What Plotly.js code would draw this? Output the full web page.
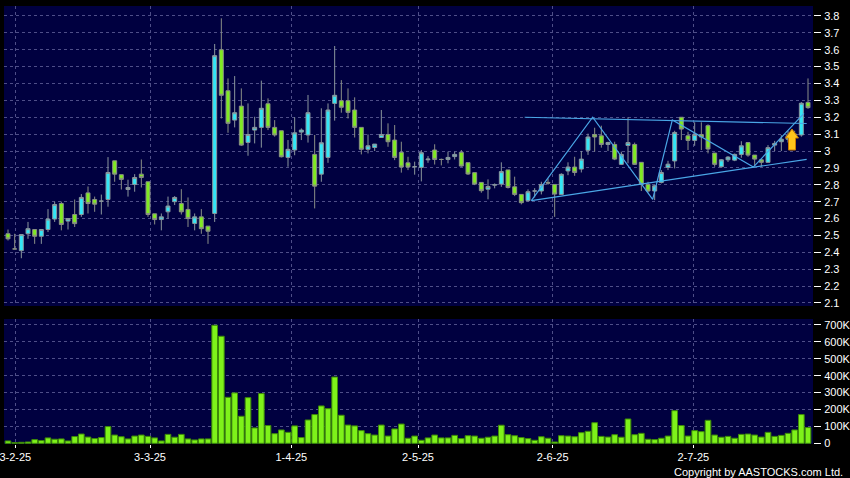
<!DOCTYPE html>
<html>
<head>
<meta charset="utf-8">
<script src="https://cdn.plot.ly/plotly-3.0.1.min.js"></script>
<style>
  html, body { margin: 0; padding: 0; background: #000; }
  #chart { width: 850px; height: 478px; }
</style>
</head>
<body>
<div id="chart"></div>
<script>
// ---- daily OHLC (trading-day index 0..120) ----
const opens = [
  2.51, 2.42, 2.41, 2.51, 2.535, 2.495, 2.535, 2.597, 2.689, 2.585,
  2.624, 2.624, 2.752, 2.713, 2.703, 2.713, 2.942, 2.86, 2.772, 2.802,
  2.863, 2.818, 2.628, 2.594, 2.64, 2.70, 2.689, 2.654, 2.571, 2.61,
  2.555, 2.63, 3.60, 3.357, 3.183, 3.266, 3.051, 3.124, 3.14, 3.28,
  3.14, 3.12, 2.962, 3.006, 3.112, 3.095, 2.98, 2.863, 2.962, 3.282,
  3.298, 3.298, 3.243, 3.14, 3.01, 3.021, 3.08, 3.098, 3.065, 2.992,
  2.93, 2.907, 2.903, 2.948, 3.006, 2.95, 2.95, 2.967, 2.992, 2.931,
  2.872, 2.814, 2.774, 2.798, 2.804, 2.888, 2.788, 2.743, 2.706, 2.763,
  2.763, 2.814, 2.802, 2.743, 2.882, 2.905, 2.893, 3.004, 3.098, 3.09,
  3.039, 3.039, 2.921, 3.033, 3.039, 2.933, 2.802, 2.763, 2.814, 2.903,
  2.941, 3.20, 3.09, 3.063, 3.098, 3.15, 2.988, 2.907, 2.948, 2.946,
  2.98, 3.05, 2.976, 2.948, 2.933, 3.035, 3.055, 3.07, 3.08, 3.095,
  3.288
];
const highs = [
  2.535, 2.51, 2.505, 2.58, 2.535, 2.535, 2.656, 2.70, 2.70, 2.60,
  2.713, 2.745, 2.79, 2.73, 2.742, 2.964, 2.942, 2.86, 2.83, 2.863,
  2.95, 2.818, 2.628, 2.63, 2.73, 2.733, 2.774, 2.725, 2.63, 2.656,
  2.555, 3.634, 3.786, 3.43, 3.444, 3.371, 3.282, 3.203, 3.417, 3.312,
  3.183, 3.12, 3.065, 3.20, 3.134, 3.332, 3.095, 3.253, 3.282, 3.622,
  3.42, 3.371, 3.318, 3.14, 3.098, 3.041, 3.243, 3.164, 3.154, 3.055,
  2.966, 2.937, 3.006, 2.97, 3.04, 2.955, 2.996, 2.996, 3.006, 2.931,
  2.872, 2.814, 2.832, 2.808, 2.933, 2.888, 2.848, 2.743, 2.773, 2.78,
  2.818, 2.838, 2.802, 2.868, 2.933, 2.966, 3.0, 3.103, 3.138, 3.15,
  3.055, 3.055, 2.996, 3.20, 3.05, 2.933, 2.818, 2.80, 2.887, 2.942,
  3.12, 3.20, 3.114, 3.17, 3.17, 3.158, 2.988, 2.952, 2.97, 2.985,
  3.058, 3.05, 2.976, 2.952, 3.035, 3.06, 3.094, 3.12, 3.12, 3.29,
  3.43
];
const lows = [
  2.47, 2.42, 2.365, 2.48, 2.45, 2.45, 2.52, 2.58, 2.53, 2.535,
  2.55, 2.61, 2.63, 2.64, 2.624, 2.67, 2.818, 2.772, 2.73, 2.759,
  2.784, 2.61, 2.565, 2.53, 2.60, 2.68, 2.624, 2.55, 2.53, 2.51,
  2.45, 2.58, 3.193, 3.108, 3.14, 3.03, 2.972, 3.045, 3.02, 3.124,
  3.085, 2.962, 2.907, 2.975, 3.065, 3.05, 2.66, 2.818, 2.93, 3.18,
  3.227, 3.193, 3.08, 2.98, 2.986, 3.0, 3.08, 3.025, 2.946, 2.872,
  2.887, 2.86, 2.82, 2.93, 2.92, 2.915, 2.927, 2.95, 2.907, 2.858,
  2.798, 2.753, 2.714, 2.779, 2.788, 2.778, 2.733, 2.684, 2.70, 2.725,
  2.743, 2.80, 2.61, 2.743, 2.857, 2.853, 2.873, 2.977, 2.996, 3.02,
  3.0, 2.946, 2.917, 2.927, 2.917, 2.763, 2.755, 2.709, 2.808, 2.887,
  2.897, 3.065, 3.006, 3.031, 3.006, 2.986, 2.907, 2.901, 2.935, 2.94,
  2.96, 2.966, 2.913, 2.907, 2.93, 3.0, 3.0, 3.05, 3.07, 3.085,
  3.25
];
const closes = [
  2.48, 2.42, 2.505, 2.54, 2.495, 2.535, 2.597, 2.683, 2.565, 2.60,
  2.57, 2.725, 2.689, 2.685, 2.703, 2.873, 2.863, 2.832, 2.784, 2.843,
  2.843, 2.624, 2.594, 2.61, 2.674, 2.725, 2.64, 2.60, 2.61, 2.54,
  2.525, 3.565, 3.33, 3.164, 3.227, 3.035, 3.098, 3.14, 3.253, 3.14,
  3.095, 2.966, 3.01, 3.108, 3.124, 3.227, 2.792, 3.049, 3.243, 3.33,
  3.259, 3.229, 3.14, 3.01, 3.031, 3.041, 3.098, 3.055, 2.962, 2.905,
  2.905, 2.907, 2.99, 2.952, 2.95, 2.95, 2.962, 2.98, 2.911, 2.864,
  2.804, 2.765, 2.79, 2.80, 2.878, 2.784, 2.743, 2.694, 2.759, 2.763,
  2.802, 2.81, 2.745, 2.862, 2.905, 2.873, 2.952, 3.083, 3.083, 3.039,
  3.05, 2.952, 2.98, 3.05, 2.921, 2.802, 2.763, 2.794, 2.873, 2.922,
  3.11, 3.13, 3.063, 3.098, 3.083, 3.012, 2.921, 2.948, 2.964, 2.98,
  3.031, 2.976, 2.952, 2.933, 3.02, 3.045, 3.07, 3.09, 3.10, 3.283,
  3.257
];
// ---- daily volume (shares) ----
const volumes = [
  14000, 4000, 6000, 8000, 22000, 16000, 32000, 24000, 26000, 14000,
  40000, 55000, 37000, 28000, 34000, 99000, 49000, 39000, 26000, 43000,
  49000, 41000, 32000, 14000, 53000, 36000, 53000, 26000, 20000, 26000,
  26000, 698000, 633000, 272000, 298000, 160000, 270000, 91000, 294000, 105000,
  57000, 79000, 65000, 103000, 34000, 138000, 170000, 221000, 205000, 392000,
  166000, 108000, 103000, 75000, 57000, 49000, 108000, 43000, 85000, 114000,
  30000, 43000, 18000, 32000, 49000, 32000, 32000, 47000, 28000, 45000,
  43000, 30000, 36000, 43000, 107000, 51000, 45000, 34000, 28000, 18000,
  39000, 30000, 8000, 45000, 43000, 39000, 63000, 71000, 122000, 41000,
  37000, 51000, 36000, 144000, 51000, 59000, 24000, 22000, 30000, 43000,
  193000, 105000, 43000, 75000, 69000, 136000, 49000, 36000, 41000, 30000,
  53000, 55000, 49000, 37000, 65000, 41000, 47000, 59000, 79000, 170000,
  93000
];
// ---- axis ticks ----
const xTickLabels = ['3-2-25', '3-3-25', '1-4-25', '2-5-25', '2-6-25', '2-7-25'];
const xTickPos = [1.1, 21.3, 42.5, 61.5, 81.7, 102.8];
const priceTickLabels = ['2.1','2.2','2.3','2.4','2.5','2.6','2.7','2.8','2.9','3','3.1','3.2','3.3','3.4','3.5','3.6','3.7','3.8'];
const volTickVals = [0, 100000, 200000, 300000, 400000, 500000, 600000, 700000];
const volTickLabels = ['0', '100K', '200K', '300K', '400K', '500K', '600K', '700K'];
// ---- drawn pattern lines (index, price) ----
const resistanceX = [77.5, 119.8];
const resistanceY = [3.20, 3.163];
const supportX = [78.5, 119.8];
const supportY = [2.706, 2.951];
const zigzagX = [78.5, 87.7, 96.7, 99.65, 111.8, 119.4];
const zigzagY = [2.706, 3.20, 2.713, 3.184, 2.905, 3.223];
const arrowX = 117.6;
const arrowY = 3.006;

const xIdx = opens.map((_, i) => i);

const CYAN = '#33e6f6';
const GREEN = '#80ea22';
const TREND = '#4aa6e6';
const GRID = '#4e4e88';
const FONT = 'Liberation Sans, Arial, sans-serif';

const traces = [
  {
    type: 'candlestick',
    x: xIdx, open: opens, high: highs, low: lows, close: closes,
    xaxis: 'x', yaxis: 'y',
    increasing: { fillcolor: CYAN, line: { color: '#8a969c', width: 1 } },
    decreasing: { fillcolor: GREEN, line: { color: '#8a8f86', width: 1 } },
    whiskerwidth: 0,
    hoverinfo: 'skip',
    showlegend: false
  },
  {
    type: 'scatter', mode: 'lines', x: resistanceX, y: resistanceY,
    xaxis: 'x', yaxis: 'y', line: { color: TREND, width: 1.2 }, hoverinfo: 'skip', showlegend: false
  },
  {
    type: 'scatter', mode: 'lines', x: supportX, y: supportY,
    xaxis: 'x', yaxis: 'y', line: { color: TREND, width: 1.2 }, hoverinfo: 'skip', showlegend: false
  },
  {
    type: 'scatter', mode: 'lines', x: zigzagX, y: zigzagY,
    xaxis: 'x', yaxis: 'y', line: { color: TREND, width: 1.2 }, hoverinfo: 'skip', showlegend: false
  },
  {
    type: 'bar', x: xIdx, y: volumes, xaxis: 'x', yaxis: 'y2',
    marker: { color: '#7ef21a', line: { color: '#3d8a08', width: 1 } },
    hoverinfo: 'skip', showlegend: false
  }
];

const W = 850, H = 478;
const layout = {
  width: W, height: H,
  margin: { l: 0, r: 0, t: 0, b: 0 },
  paper_bgcolor: '#000000',
  plot_bgcolor: '#000040',
  boxgap: 0.15,
  bargap: 0.15,
  showlegend: false,
  font: { family: FONT, size: 11, color: '#ffffff' },
  xaxis: {
    domain: [4 / W, 813 / W],
    range: [-0.6, 120.75],
    anchor: 'y2',
    rangeslider: { visible: false },
    tickmode: 'array', tickvals: xTickPos, ticktext: xTickLabels,
    ticks: 'outside', ticklen: 3, tickcolor: '#ffffff',
    ticklabeloverflow: 'allow',
    showgrid: true, gridcolor: GRID, griddash: '3px,3px', gridwidth: 1,
    zeroline: false, showline: false,
    tickfont: { family: FONT, size: 11, color: '#ffffff' },
    fixedrange: true
  },
  yaxis: {
    domain: [(H - 306) / H, (H - 6) / H],
    range: [2.082, 3.859],
    side: 'right', anchor: 'x',
    tickmode: 'array',
    tickvals: priceTickLabels.map(parseFloat),
    ticktext: priceTickLabels,
    ticks: 'outside', ticklen: 7, tickcolor: '#ffffff',
    ticklabelstandoff: 1,
    showgrid: true, gridcolor: GRID, griddash: '3px,3px', gridwidth: 1,
    zeroline: false, showline: false,
    tickfont: { family: FONT, size: 11, color: '#ffffff' },
    automargin: false
  },
  yaxis2: {
    domain: [(H - 444) / H, (H - 319) / H],
    range: [-4000, 735000],
    side: 'right', anchor: 'x',
    tickmode: 'array', tickvals: volTickVals, ticktext: volTickLabels,
    ticks: 'outside', ticklen: 7, tickcolor: '#ffffff',
    ticklabelstandoff: 1,
    showgrid: true, gridcolor: GRID, griddash: '3px,3px', gridwidth: 1,
    zeroline: false, showline: false,
    tickfont: { family: FONT, size: 11, color: '#ffffff' },
    automargin: false
  },
  shapes: [
    {
      type: 'path', xref: 'x', yref: 'y',
      xsizemode: 'pixel', ysizemode: 'pixel',
      xanchor: arrowX, yanchor: arrowY,
      path: 'M -3.5 0 L 3.5 0 L 3.5 12 L 6.5 12 L 0 21 L -6.5 12 L -3.5 12 Z',
      fillcolor: '#ffc61a', line: { color: '#c87a00', width: 1 }
    }
  ],
  annotations: [
    {
      text: 'Copyright by AASTOCKS.com Ltd.',
      xref: 'paper', yref: 'paper',
      x: 845 / W, y: (H - 471.5) / H,
      xanchor: 'right', yanchor: 'middle',
      showarrow: false,
      font: { family: FONT, size: 11, color: '#ffffff' }
    }
  ]
};

Plotly.newPlot('chart', traces, layout, { staticPlot: true, displayModeBar: false });
</script>
</body>
</html>
